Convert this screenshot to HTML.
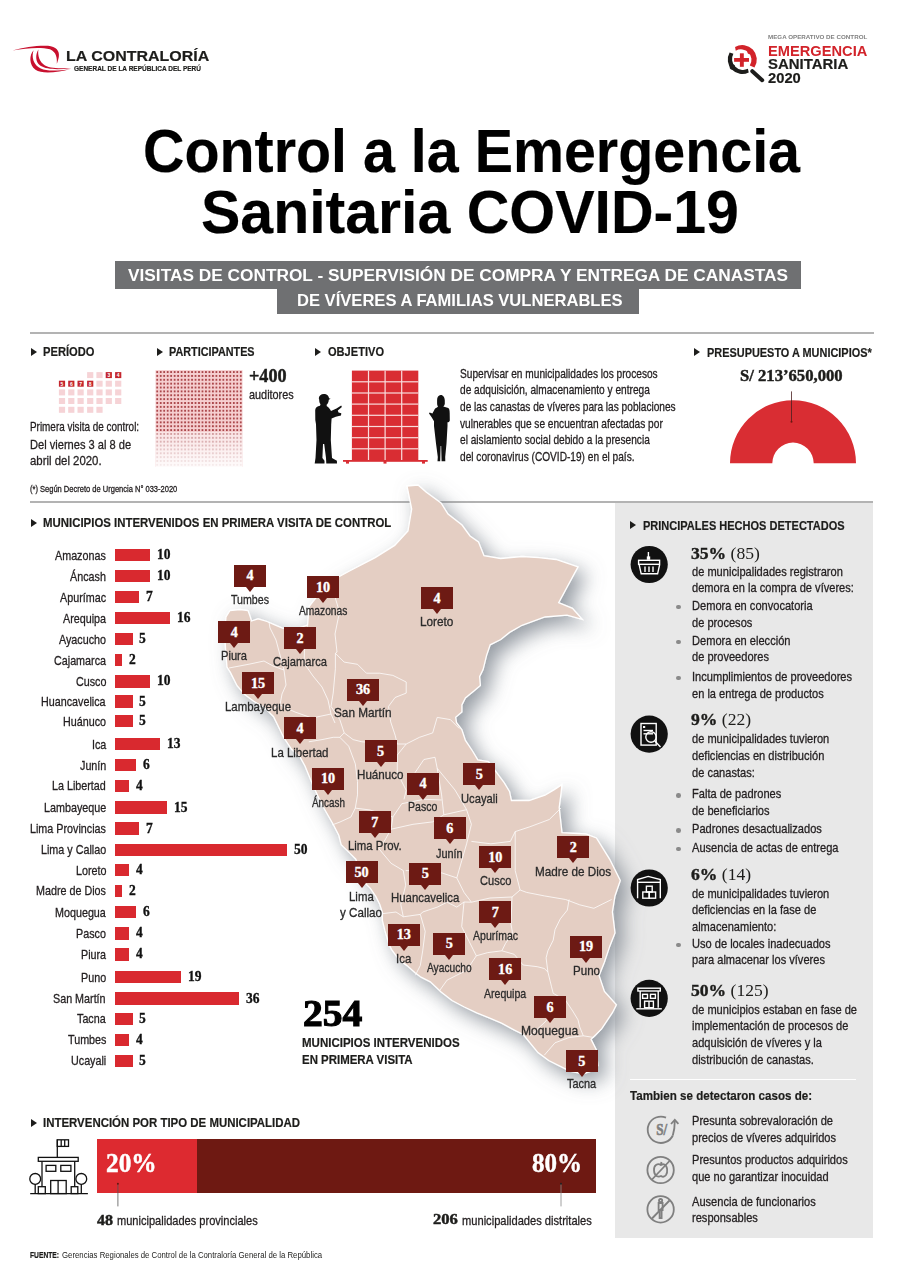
<!DOCTYPE html>
<html><head><meta charset="utf-8"><style>
html,body{margin:0;padding:0;background:#fff}
body{width:904px;height:1280px;position:relative;overflow:hidden;font-family:'Liberation Sans', sans-serif}
.t{position:absolute;white-space:nowrap;line-height:1;transform-origin:0 0}
.sw{-webkit-text-stroke:0.3px currentColor}
.sv{-webkit-text-stroke:0.35px currentColor}
.mb{position:absolute;width:32px;height:22px;background:#6d1a14}
.mb:after{content:"";position:absolute;left:12px;top:22px;border-left:4px solid transparent;border-right:4px solid transparent;border-top:5px solid #6d1a14}
</style></head><body>
<div style="position:absolute;left:115px;top:261px;width:686px;height:28px;background:#6f7072"></div>
<div style="position:absolute;left:277px;top:289px;width:362px;height:24.5px;background:#6f7072"></div>
<div style="position:absolute;left:29.7px;top:331.9px;width:844.3px;height:1.9px;background:#b3b3b3"></div>
<div style="position:absolute;left:30.5px;top:348.0px;width:0;height:0;border-top:4px solid transparent;border-bottom:4px solid transparent;border-left:6px solid #1d1d1b"></div>
<div style="position:absolute;left:156.5px;top:348.0px;width:0;height:0;border-top:4px solid transparent;border-bottom:4px solid transparent;border-left:6px solid #1d1d1b"></div>
<div style="position:absolute;left:315px;top:348.0px;width:0;height:0;border-top:4px solid transparent;border-bottom:4px solid transparent;border-left:6px solid #1d1d1b"></div>
<div style="position:absolute;left:694px;top:348.3px;width:0;height:0;border-top:4px solid transparent;border-bottom:4px solid transparent;border-left:6px solid #1d1d1b"></div>
<div style="position:absolute;left:29.7px;top:501.2px;width:843.7px;height:1.5px;background:#b3b3b3"></div>
<div style="position:absolute;left:614.6px;top:502.8px;width:258.8px;height:734.8px;background:#e8e8e8"></div>
<div style="position:absolute;left:30.5px;top:518.7px;width:0;height:0;border-top:4px solid transparent;border-bottom:4px solid transparent;border-left:6px solid #1d1d1b"></div>
<div style="position:absolute;left:630px;top:521.4px;width:0;height:0;border-top:4px solid transparent;border-bottom:4px solid transparent;border-left:6px solid #1d1d1b"></div>
<div style="position:absolute;left:115.4px;top:549.05px;width:34.4px;height:12.3px;background:#d9292f"></div>
<div style="position:absolute;left:115.4px;top:570.05px;width:34.4px;height:12.3px;background:#d9292f"></div>
<div style="position:absolute;left:115.4px;top:591.15px;width:24.1px;height:12.3px;background:#d9292f"></div>
<div style="position:absolute;left:115.4px;top:612.05px;width:55.0px;height:12.3px;background:#d9292f"></div>
<div style="position:absolute;left:115.4px;top:633.15px;width:17.2px;height:12.3px;background:#d9292f"></div>
<div style="position:absolute;left:115.4px;top:654.15px;width:6.9px;height:12.3px;background:#d9292f"></div>
<div style="position:absolute;left:115.4px;top:675.25px;width:34.4px;height:12.3px;background:#d9292f"></div>
<div style="position:absolute;left:115.4px;top:695.35px;width:17.2px;height:12.3px;background:#d9292f"></div>
<div style="position:absolute;left:115.4px;top:715.05px;width:17.2px;height:12.3px;background:#d9292f"></div>
<div style="position:absolute;left:115.4px;top:737.95px;width:44.7px;height:12.3px;background:#d9292f"></div>
<div style="position:absolute;left:115.4px;top:758.95px;width:20.6px;height:12.3px;background:#d9292f"></div>
<div style="position:absolute;left:115.4px;top:779.85px;width:13.8px;height:12.3px;background:#d9292f"></div>
<div style="position:absolute;left:115.4px;top:801.45px;width:51.6px;height:12.3px;background:#d9292f"></div>
<div style="position:absolute;left:115.4px;top:822.35px;width:24.1px;height:12.3px;background:#d9292f"></div>
<div style="position:absolute;left:115.4px;top:843.55px;width:172.0px;height:12.3px;background:#d9292f"></div>
<div style="position:absolute;left:115.4px;top:863.95px;width:13.8px;height:12.3px;background:#d9292f"></div>
<div style="position:absolute;left:115.4px;top:884.85px;width:6.9px;height:12.3px;background:#d9292f"></div>
<div style="position:absolute;left:115.4px;top:906.15px;width:20.6px;height:12.3px;background:#d9292f"></div>
<div style="position:absolute;left:115.4px;top:927.25px;width:13.8px;height:12.3px;background:#d9292f"></div>
<div style="position:absolute;left:115.4px;top:948.25px;width:13.8px;height:12.3px;background:#d9292f"></div>
<div style="position:absolute;left:115.4px;top:971.15px;width:65.4px;height:12.3px;background:#d9292f"></div>
<div style="position:absolute;left:115.4px;top:992.45px;width:123.8px;height:12.3px;background:#d9292f"></div>
<div style="position:absolute;left:115.4px;top:1012.75px;width:17.2px;height:12.3px;background:#d9292f"></div>
<div style="position:absolute;left:115.4px;top:1033.55px;width:13.8px;height:12.3px;background:#d9292f"></div>
<div style="position:absolute;left:115.4px;top:1054.65px;width:17.2px;height:12.3px;background:#d9292f"></div>
<div style="position:absolute;left:676.3px;top:604.8px;width:4.6px;height:4.6px;border-radius:50%;background:#8a8a8a"></div>
<div style="position:absolute;left:676.3px;top:639.6px;width:4.6px;height:4.6px;border-radius:50%;background:#8a8a8a"></div>
<div style="position:absolute;left:676.3px;top:675.6px;width:4.6px;height:4.6px;border-radius:50%;background:#8a8a8a"></div>
<div style="position:absolute;left:676.3px;top:793.0px;width:4.6px;height:4.6px;border-radius:50%;background:#8a8a8a"></div>
<div style="position:absolute;left:676.3px;top:828.2px;width:4.6px;height:4.6px;border-radius:50%;background:#8a8a8a"></div>
<div style="position:absolute;left:676.3px;top:846.8px;width:4.6px;height:4.6px;border-radius:50%;background:#8a8a8a"></div>
<div style="position:absolute;left:676.3px;top:942.8px;width:4.6px;height:4.6px;border-radius:50%;background:#8a8a8a"></div>
<div style="position:absolute;left:629.5px;top:1078.5px;width:226px;height:1px;background:#fff"></div>
<div style="position:absolute;left:30.5px;top:1118.9px;width:0;height:0;border-top:4px solid transparent;border-bottom:4px solid transparent;border-left:6px solid #1d1d1b"></div>
<div style="position:absolute;left:96.7px;top:1139.4px;width:100px;height:53.2px;background:#dd2a30"></div>
<div style="position:absolute;left:196.7px;top:1139.4px;width:399.5px;height:53.2px;background:#6e1912"></div>
<svg style="position:absolute;left:0;top:0" width="904" height="1280" viewBox="0 0 904 1280">
<defs><filter id="sh" x="-30%" y="-20%" width="160%" height="140%"><feGaussianBlur in="SourceAlpha" stdDeviation="10"/><feOffset dx="8" dy="8" result="b"/><feFlood flood-color="#737b85" flood-opacity="0.75"/><feComposite in2="b" operator="in"/><feMerge><feMergeNode/><feMergeNode in="SourceGraphic"/></feMerge></filter></defs>
<path d="M407.0,486.0 L418.0,485.0 L426.0,492.0 L441.0,503.0 L448.0,514.0 L462.0,525.0 L470.0,536.0 L478.5,542.0 L484.0,555.7 L500.6,558.5 L522.0,556.5 L539.0,557.7 L556.0,559.5 L578.0,566.8 L558.7,602.7 L572.5,608.3 L582.2,619.3 L567.0,615.2 L545.0,617.0 L522.0,625.3 L509.6,632.4 L500.8,639.5 L490.2,644.8 L486.6,655.4 L483.1,669.6 L479.6,676.6 L480.4,685.5 L474.2,690.8 L465.4,697.9 L461.9,705.0 L461.9,712.0 L455.7,717.3 L456.5,722.7 L461.9,729.7 L465.4,740.4 L472.5,751.0 L477.8,759.8 L488.4,761.6 L504.3,782.8 L509.6,791.7 L511.4,800.5 L529.1,800.5 L545.0,795.2 L553.9,789.9 L561.9,784.6 L561.0,793.5 L559.2,807.6 L562.0,832.7 L585.8,834.0 L596.4,838.0 L609.7,859.3 L620.3,880.5 L615.0,896.0 L612.4,911.9 L615.0,933.0 L609.7,946.4 L604.4,962.3 L599.1,975.6 L604.4,991.5 L616.4,1004.8 L612.4,1012.7 L601.8,1028.7 L591.1,1039.3 L596.4,1049.9 L597.8,1065.8 L591.1,1071.1 L583.2,1073.8 L569.9,1071.1 L559.3,1065.8 L548.7,1060.5 L538.0,1052.6 L523.2,1034.5 L513.9,1029.8 L501.5,1023.2 L489.1,1017.8 L476.7,1012.8 L464.3,1007.0 L452.0,1000.5 L441.1,992.0 L430.3,981.8 L421.0,977.2 L414.8,972.5 L407.0,965.6 L399.3,960.1 L391.5,949.3 L389.0,944.2 L385.0,930.9 L382.4,920.3 L382.4,912.3 L379.7,904.3 L375.8,896.4 L370.4,888.4 L363.8,881.8 L355.8,859.2 L350.5,853.9 L341.2,844.6 L338.8,835.3 L333.0,824.0 L321.7,804.2 L312.5,784.2 L305.0,766.0 L300.0,757.0 L291.6,749.3 L283.6,737.3 L273.6,716.7 L264.7,707.8 L253.7,701.2 L244.8,694.6 L237.1,685.7 L230.4,672.4 L227.0,667.0 L226.0,655.0 L225.0,640.0 L225.0,628.0 L226.0,617.0 L230.0,610.5 L240.0,609.5 L248.0,610.5 L250.0,616.0 L251.5,621.0 L258.1,618.8 L267.0,621.5 L273.6,624.3 L282.4,628.2 L296.0,629.0 L307.6,625.0 L309.1,606.5 L315.3,598.7 L326.0,586.0 L338.5,577.0 L350.0,570.8 L375.2,557.6 L394.7,545.4 L408.0,531.0 L411.7,509.0 Z" fill="#e4cec3" stroke="#fff" stroke-width="1.3" filter="url(#sh)"/>
<g id="inner" fill="none" stroke="#fff" stroke-width="0.9" stroke-opacity="0.85" stroke-linejoin="round"><polyline points="229,668 250,664 264,661 273,666 284,670"/>
<polyline points="284,670 280,655 276,640 270,628 269,622"/>
<polyline points="284,670 286,685 282,694 280,705"/>
<polyline points="280,705 271,710 258,708"/>
<polyline points="307.6,625 305,640 304,663 313,676 322,687 328,700 331,714 335,723"/>
<polyline points="280,705 295,712 312,718 331,714"/>
<polyline points="335,597 339.5,612 335,634 337,652 335.4,653.3"/>
<polyline points="335.4,653.3 344.2,662.1 357.5,664.3 366.4,673.2 379.6,673.2 392.9,675.4 406.2,682 406.2,693.1 395.1,697.5 388.5,706.4 390.7,721.9 395.1,735.1 397.3,744"/>
<polyline points="335.4,653.3 335.4,668.8 333.2,693.1 331,706.4 339.8,719.6 344.2,732.9 353.1,739.6 361.9,741.8 397.3,744"/>
<polyline points="308.8,741.8 322.1,739.6 333.2,737.3 339.8,737.3 344.2,732.9"/>
<polyline points="397.3,744 406.2,744 419.5,737.3 432.7,732.9 437.2,717.4 450.4,719.6 459.3,728.5"/>
<polyline points="406.2,744 397.3,755 397.3,772.7 406.2,790.4 404,799.3"/>
<polyline points="415,772.7 423.9,759.5 435,757.3 437.2,768.3 441.6,794.9 443.8,814.8"/>
<polyline points="441.6,800 423.9,799.3 401.8,803.7 392.9,817 391.1,829.2"/>
<polyline points="339.8,737.3 348.7,746.2 355.3,763.9 357.5,781.6 357.5,794.9 355.3,808.1 350.9,817 340,822 332,825"/>
<polyline points="355.3,808.1 370,810 392.9,817"/>
<polyline points="391.1,829.2 413,824.3 432.5,821.9 443.8,814.8"/>
<polyline points="391.1,829.2 385,840 378.9,848.7 391.1,863.3 403.3,870.6 405.7,885.2 400.8,904.6 403.3,916.8"/>
<polyline points="376.5,914.4 396,912 403.3,916.8 420.3,914.4 422.7,912"/>
<polyline points="405.7,870.6 425.2,870.6 442.2,873 456.8,877.9 464.1,892.5 471.4,902.2"/>
<polyline points="443.8,814.8 466.6,809.7 471.4,824.3 466.6,843.8 461.7,860.8 456.8,877.9"/>
<polyline points="437.2,768.3 455,790 466.6,809.7"/>
<polyline points="471.4,841.4 490.9,843.8 510.4,841.4 515.2,831.6 529.8,826.8 549.3,819.5 561,808"/>
<polyline points="515.2,831.6 515.2,870.6 520.1,890 526.6,892.4 544.3,895.9 565.6,899.5 579.7,904.8 593.9,908.3 611.6,899.5"/>
<polyline points="569.1,899.5 567.3,910.1 560.3,918.9 555,929.6 553.2,940.2 547.9,950.8 546.1,957.9 547.9,972 551.4,986.2 553.2,993.3 565.6,1000.4 572.7,1011 578,1019.8 579.7,1026.9 583.3,1035.8 593.9,1037.5 601.8,1029"/>
<polyline points="544.3,1055.2 555,1042.8 569.1,1037.5 583.3,1035.8"/>
<polyline points="565.6,1000.4 555,1010 545,1022 530,1036"/>
<polyline points="471.4,902.2 490,898 512,897 520.1,890"/>
<polyline points="512,897 511,924 512.5,933 505.4,943.7 501.9,950.8"/>
<polyline points="476.3,955.8 487.7,952.6 501.9,950.8 514.2,954.3 523.1,965 537.3,966.7 544.3,968.5 547.9,972"/>
<polyline points="464,902 461.7,926.6 469,941.2 476.3,955.8"/>
<polyline points="476.3,955.8 466.6,970.4 456.8,975.2 447.1,980.1 440,990"/>
<polyline points="422.7,912 437.3,907.1 447.1,902.2 456.8,907.1 464,902 471.4,902.2"/>
<polyline points="420.3,914.4 425.2,931.4 422.7,950.9 420.3,965.5 415.4,975.2"/></g>
</svg>
<svg style="position:absolute;left:0;top:0" width="904" height="1280" viewBox="0 0 904 1280">
<g fill="#c8102e">
<path d="M12.6,50.4 C24,47.2 38,45.2 48,45.8 C56,46.5 60,51 58.8,57 C58.2,60 57.5,62 56.8,63.8 C57.2,58 56.5,52 50,49.2 C40,46.8 26,48.2 12.6,50.4 Z"/>
<path d="M33.6,50.2 C29.2,55 28.8,64.5 35.5,69.8 C42,74.5 58,72.5 70.5,69 C59,70.8 47,71.6 40.8,68.6 C33.5,65 31.2,57 33.6,50.2 Z"/>
<path d="M38.4,49.4 C35.2,54.5 35.2,62 40.5,65.8 C47,70 60,69.5 71.8,68.2 C60,68.6 50.5,68.3 45,65.4 C39.5,62 37.4,55.5 38.4,49.4 Z"/>
</g>
<!-- emergencia magnifier -->
<path d="M735.05,46.94 A14.5,14.5 0 0 1 754.46,67.4 L749.8,65.5 A10.5,10.5 0 0 0 735.75,50.7 Z" fill="#d2232a"/>
<circle cx="749.9" cy="51.6" r="2.6" fill="#d2232a"/>
<path d="M748.75,72.5 A14.5,14.5 0 0 1 729.6,52.5 L733.4,53.7 A11,11 0 0 0 747.9,68.85 Z" fill="#1d1d1b"/>
<circle cx="732.4" cy="67" r="2.7" fill="#1d1d1b"/>
<rect x="734.1" y="58" width="14.9" height="3.8" fill="#d2232a"/>
<rect x="739.9" y="53.3" width="3.9" height="13.5" fill="#d2232a"/>
<line x1="752.3" y1="71.2" x2="762.2" y2="80.2" stroke="#1d1d1b" stroke-width="4" stroke-linecap="round"/>

<rect x="87.1" y="372.1" width="6.2" height="6" fill="#f6d3d6"/>
<rect x="96.4" y="372.1" width="6.2" height="6" fill="#f6d3d6"/>
<rect x="105.7" y="372.1" width="6.2" height="6" fill="#c4262e"/>
<text x="108.8" y="376.9" font-family="Liberation Sans" font-weight="bold" font-size="5" fill="#fff" text-anchor="middle">3</text>
<rect x="115.1" y="372.1" width="6.2" height="6" fill="#c4262e"/>
<text x="118.2" y="376.9" font-family="Liberation Sans" font-weight="bold" font-size="5" fill="#fff" text-anchor="middle">4</text>
<rect x="58.9" y="380.7" width="6.2" height="6" fill="#c4262e"/>
<text x="62.0" y="385.5" font-family="Liberation Sans" font-weight="bold" font-size="5" fill="#fff" text-anchor="middle">5</text>
<rect x="68.2" y="380.7" width="6.2" height="6" fill="#c4262e"/>
<text x="71.3" y="385.5" font-family="Liberation Sans" font-weight="bold" font-size="5" fill="#fff" text-anchor="middle">6</text>
<rect x="77.5" y="380.7" width="6.2" height="6" fill="#c4262e"/>
<text x="80.6" y="385.5" font-family="Liberation Sans" font-weight="bold" font-size="5" fill="#fff" text-anchor="middle">7</text>
<rect x="87.1" y="380.7" width="6.2" height="6" fill="#c4262e"/>
<text x="90.2" y="385.5" font-family="Liberation Sans" font-weight="bold" font-size="5" fill="#fff" text-anchor="middle">8</text>
<rect x="96.4" y="380.7" width="6.2" height="6" fill="#f6d3d6"/>
<rect x="105.7" y="380.7" width="6.2" height="6" fill="#f6d3d6"/>
<rect x="115.1" y="380.7" width="6.2" height="6" fill="#f6d3d6"/>
<rect x="58.9" y="389.4" width="6.2" height="6" fill="#f6d3d6"/>
<rect x="68.2" y="389.4" width="6.2" height="6" fill="#f6d3d6"/>
<rect x="77.5" y="389.4" width="6.2" height="6" fill="#f6d3d6"/>
<rect x="87.1" y="389.4" width="6.2" height="6" fill="#f6d3d6"/>
<rect x="96.4" y="389.4" width="6.2" height="6" fill="#f6d3d6"/>
<rect x="105.7" y="389.4" width="6.2" height="6" fill="#f6d3d6"/>
<rect x="115.1" y="389.4" width="6.2" height="6" fill="#f6d3d6"/>
<rect x="58.9" y="398.0" width="6.2" height="6" fill="#f6d3d6"/>
<rect x="68.2" y="398.0" width="6.2" height="6" fill="#f6d3d6"/>
<rect x="77.5" y="398.0" width="6.2" height="6" fill="#f6d3d6"/>
<rect x="87.1" y="398.0" width="6.2" height="6" fill="#f6d3d6"/>
<rect x="96.4" y="398.0" width="6.2" height="6" fill="#f6d3d6"/>
<rect x="105.7" y="398.0" width="6.2" height="6" fill="#f6d3d6"/>
<rect x="115.1" y="398.0" width="6.2" height="6" fill="#f6d3d6"/>
<rect x="58.9" y="406.8" width="6.2" height="6" fill="#f6d3d6"/>
<rect x="68.2" y="406.8" width="6.2" height="6" fill="#f6d3d6"/>
<rect x="77.5" y="406.8" width="6.2" height="6" fill="#f6d3d6"/>
<rect x="87.1" y="406.8" width="6.2" height="6" fill="#f6d3d6"/>
<rect x="96.4" y="406.8" width="6.2" height="6" fill="#f6d3d6"/>
<defs><pattern id="dp" x="155.5" y="370.1" width="3.48" height="3.87" patternUnits="userSpaceOnUse"><rect width="3.48" height="3.87" fill="#f6cfd0"/><circle cx="1.74" cy="1.9" r="1.05" fill="#9e2f33"/></pattern><linearGradient id="fade" x1="0" y1="0" x2="0" y2="1"><stop offset="0" stop-color="#fff" stop-opacity="0.45"/><stop offset="1" stop-color="#fff" stop-opacity="0.92"/></linearGradient></defs>
<rect x="155.5" y="370.1" width="87" height="96.8" fill="url(#dp)"/>
<rect x="155.5" y="432" width="87" height="35" fill="url(#fade)"/>
<rect x="351.9" y="370.6" width="66.4" height="89.4" fill="#d92d33"/>
<rect x="367.9" y="370.6" width="1.2" height="89.4" fill="#f9dcdc"/>
<rect x="384.5" y="370.6" width="1.2" height="89.4" fill="#f9dcdc"/>
<rect x="401.1" y="370.6" width="1.2" height="89.4" fill="#f9dcdc"/>
<rect x="351.9" y="381.2" width="66.4" height="1.2" fill="#f9dcdc"/>
<rect x="351.9" y="392.4" width="66.4" height="1.2" fill="#f9dcdc"/>
<rect x="351.9" y="403.5" width="66.4" height="1.2" fill="#f9dcdc"/>
<rect x="351.9" y="414.7" width="66.4" height="1.2" fill="#f9dcdc"/>
<rect x="351.9" y="425.9" width="66.4" height="1.2" fill="#f9dcdc"/>
<rect x="351.9" y="437.1" width="66.4" height="1.2" fill="#f9dcdc"/>
<rect x="351.9" y="448.2" width="66.4" height="1.2" fill="#f9dcdc"/>
<rect x="343" y="460" width="84.7" height="1.8" fill="#d92d33"/>
<rect x="346" y="461" width="3" height="2.6" fill="#d92d33"/>
<rect x="383.5" y="461" width="3" height="2.6" fill="#d92d33"/>
<rect x="422" y="461" width="3" height="2.6" fill="#d92d33"/>
<path fill="#111" d="M323.8,393.9 C327,393.9 329,396 329,398.3 L330.6,398.8 L328.8,399.7 C328.6,402 327.8,404 326.6,404.8 L326.8,406.2 C328.5,407 330,409 331,411 L336.5,408.4 L341.2,405.6 L341.9,407 L337.8,410.6 L338.5,412.6 L341.3,413.3 L341,415.4 L335.8,416.8 L331.6,418.6 L331.2,424.5 L330.8,440 L332,458 L336.9,460.8 L337,463.6 L326.3,463.6 L326,458 L324.2,444 L323,444 L322.4,458 L324.5,460.8 L324.5,463.6 L314.7,463.6 L315.5,458 L316.5,440 L316,424.3 L315.3,420 L315.2,410 C315.5,407.5 317.5,406.3 320,405.8 L320.5,404.2 C319.5,403 319.2,401.5 319.2,399.8 L318.8,398.3 C319,395.5 321,393.9 323.8,393.9 Z"/>
<path fill="#111" d="M440.7,395 C443.3,395 444.8,397.5 444.8,400.5 L444.8,404 C444.5,405.2 444,406 443.3,406.4 L448.3,408 C449.3,408.8 449.7,410.5 449.7,413 L449.8,420.5 C449.5,421.8 448.5,422.3 447.5,422.3 L447.5,426 L446.5,443.5 L445.2,457 L445.3,461.2 L441.6,461.2 L441.2,446 L440.6,446 L440.2,461.2 L437.5,461.2 L437.8,457 L436,443.5 L434,426 L434,421.2 L431.5,417 L429,413.6 L429.6,412.6 L432.4,413.6 L434.3,410 C434.6,408.6 435.5,407.8 437,407.4 L438,406.6 C437.3,405.6 437.1,404.5 437.1,403 L437.1,400 C437.1,397.2 438.5,395 440.7,395 Z"/>
<path d="M730,463.3 A63,63 0 0 1 856,463.3 L813.7,463.3 A20.7,20.7 0 0 0 772.3,463.3 Z" fill="#d92d33"/>
<line x1="791.5" y1="391.4" x2="791.5" y2="421.7" stroke="#4a2020" stroke-width="0.8"/><circle cx="791.5" cy="421.7" r="1" fill="#6b1510"/>
<line x1="117.9" y1="1183.8" x2="117.9" y2="1206.4" stroke="#555" stroke-width="0.8"/><circle cx="117.9" cy="1183.8" r="1" fill="#6b1510"/>
<line x1="561" y1="1183.8" x2="561" y2="1206.4" stroke="#888" stroke-width="0.8"/><circle cx="561" cy="1183.8" r="1" fill="#222"/>
<circle cx="649.2" cy="564.5" r="18.6" fill="#111"/>
<circle cx="649.2" cy="734.1" r="18.6" fill="#111"/>
<circle cx="649.2" cy="888" r="18.6" fill="#111"/>
<circle cx="649.2" cy="998.4" r="18.6" fill="#111"/>
<g stroke="#fff" stroke-width="1.4" fill="none"><rect x="638.6" y="560.3" width="21" height="4"/><path d="M639.2,564.8 L641.2,573.8 L657.6,573.8 L659.6,564.8"/><line x1="645" y1="566.5" x2="645" y2="572"/><line x1="649" y1="566.5" x2="649" y2="572"/><line x1="653" y1="566.5" x2="653" y2="572"/><line x1="648.4" y1="552" x2="648.4" y2="559"/></g><rect x="646.8" y="556.4" width="3.4" height="3.4" fill="#fff"/>
<g stroke="#fff" stroke-width="1.4" fill="none"><rect x="641" y="723.5" width="15.2" height="21.6"/><circle cx="651" cy="737" r="5.2"/><line x1="654.8" y1="741" x2="660.5" y2="747"/><line x1="643.5" y1="730.5" x2="653" y2="730.5"/><line x1="643.5" y1="733.8" x2="653" y2="733.8"/></g><rect x="643" y="726" width="2.2" height="2" fill="#fff"/>
<g stroke="#fff" stroke-width="1.4" fill="none"><path d="M637.6,898.2 L637.6,879.6 L648.2,876.4 L660.3,879.6 L660.3,898.2"/><line x1="637.6" y1="882.3" x2="660.3" y2="882.3"/><rect x="646.4" y="886.2" width="5.8" height="5.8"/><rect x="642.8" y="892" width="6.4" height="6.2"/><rect x="649.2" y="892" width="6.4" height="6.2"/></g>
<g stroke="#fff" stroke-width="1.4" fill="none"><rect x="637.9" y="988.2" width="22.4" height="2.8"/><line x1="640.2" y1="991" x2="640.2" y2="1007.7"/><line x1="658.2" y1="991" x2="658.2" y2="1007.7"/><rect x="642.6" y="994.3" width="4.9" height="4"/><rect x="650.5" y="994.3" width="4.9" height="4"/><rect x="644.6" y="1001.2" width="8.8" height="6.5"/><line x1="649" y1="1001.2" x2="649" y2="1007.7"/><line x1="636.3" y1="1008.8" x2="661.8" y2="1008.8"/></g>
<g stroke="#7f7f7f" stroke-width="1.8" fill="none"><path d="M672.8,1135.5 A13.2,13.2 0 1 1 666,1117.6"/><path d="M672.8,1135.5 C674.2,1131 674.8,1126 674.8,1120.5"/><path d="M671,1124 L674.8,1119.8 L678.4,1123.8"/></g>
<text x="661.8" y="1135.2" font-family="Liberation Serif" font-weight="bold" font-size="16" fill="#7f7f7f" stroke="#7f7f7f" stroke-width="0.6" text-anchor="middle" transform="translate(661.8 0) scale(0.82 1) translate(-661.8 0)">S/</text>
<g stroke="#7f7f7f" stroke-width="1.8" fill="none"><circle cx="660.6" cy="1170" r="13.2"/><line x1="652" y1="1179.5" x2="669.5" y2="1161"/><path d="M656,1165 C653,1167 653.5,1174 656.5,1176 C658.5,1177 660,1176.5 661,1176 C662.5,1177 664.5,1177 666,1175 C668,1172 667.5,1166 664.5,1164.5 C663,1164 661.5,1164.5 660.8,1165 C659.5,1164 657.5,1164 656,1165 Z"/><path d="M660.8,1165 L661.5,1162"/></g>
<g stroke="#7f7f7f" stroke-width="1.8" fill="none"><circle cx="660.6" cy="1209.4" r="13.2"/><line x1="652" y1="1218.5" x2="669.5" y2="1200.5"/><circle cx="660.6" cy="1200.6" r="1.6"/><path d="M658.6,1203 L662.6,1203 L662.6,1210 L661.6,1210 L661.6,1218 L659.6,1218 L659.6,1210 L658.6,1210 Z"/></g>
<g stroke="#111" stroke-width="1.3" fill="none"><line x1="30.2" y1="1193.6" x2="87.9" y2="1193.6"/><rect x="38.3" y="1157.4" width="39.9" height="3.9"/><line x1="42" y1="1161.3" x2="42" y2="1186.7"/><line x1="74.7" y1="1161.3" x2="74.7" y2="1186.7"/><rect x="46.1" y="1165.4" width="9.7" height="5.9"/><rect x="60.8" y="1165.4" width="10.1" height="5.9"/><rect x="50.7" y="1180.5" width="15.5" height="13.1"/><line x1="58.1" y1="1180.5" x2="58.1" y2="1193.6"/><rect x="38.3" y="1186.7" width="7" height="6.9"/><rect x="71.2" y="1186.7" width="6.6" height="6.9"/><circle cx="35.2" cy="1178.9" r="5.4"/><line x1="35.2" y1="1184.3" x2="35.2" y2="1193.6"/><circle cx="81.3" cy="1178.9" r="5.4"/><line x1="81.3" y1="1184.3" x2="81.3" y2="1193.6"/><line x1="57.3" y1="1139.4" x2="57.3" y2="1157.4"/><rect x="57.3" y="1139.8" width="11.2" height="6.6"/><line x1="61.2" y1="1140" x2="61.2" y2="1146.4"/><line x1="64.7" y1="1140" x2="64.7" y2="1146.4"/></g>
</svg>
<div class="mb" style="left:234.0px;top:564.6px"></div>
<div class="mb" style="left:307.0px;top:576.3px"></div>
<div class="mb" style="left:218.3px;top:620.9px"></div>
<div class="mb" style="left:284.0px;top:627.4px"></div>
<div class="mb" style="left:242.0px;top:672.3px"></div>
<div class="mb" style="left:284.0px;top:717.4px"></div>
<div class="mb" style="left:312.0px;top:767.6px"></div>
<div class="mb" style="left:347.0px;top:678.6px"></div>
<div class="mb" style="left:421.0px;top:587.0px"></div>
<div class="mb" style="left:364.5px;top:740.2px"></div>
<div class="mb" style="left:407.0px;top:772.6px"></div>
<div class="mb" style="left:358.7px;top:810.8px"></div>
<div class="mb" style="left:345.5px;top:861.2px"></div>
<div class="mb" style="left:409.4px;top:862.7px"></div>
<div class="mb" style="left:387.8px;top:923.6px"></div>
<div class="mb" style="left:433.7px;top:816.8px"></div>
<div class="mb" style="left:463.3px;top:762.9px"></div>
<div class="mb" style="left:479.3px;top:846.0px"></div>
<div class="mb" style="left:557.2px;top:836.2px"></div>
<div class="mb" style="left:479.3px;top:901.0px"></div>
<div class="mb" style="left:433.4px;top:932.6px"></div>
<div class="mb" style="left:489.2px;top:958.3px"></div>
<div class="mb" style="left:570.0px;top:935.7px"></div>
<div class="mb" style="left:534.0px;top:996.3px"></div>
<div class="mb" style="left:565.9px;top:1049.9px"></div>
<div class="t" style="left:65.50px;top:48.18px;font-size:15.5px;font-family:'Liberation Sans', sans-serif;font-weight:bold;color:#1d1d1b;-webkit-text-stroke:0.2px currentColor;transform:scaleX(1.0315)">LA CONTRALORÍA</div>
<div class="t" style="left:74.00px;top:64.70px;font-size:7.2px;font-family:'Liberation Sans', sans-serif;font-weight:bold;color:#1d1d1b;-webkit-text-stroke:0.2px currentColor;transform:scaleX(0.9060)">GENERAL DE LA REPÚBLICA DEL PERÚ</div>
<div class="t" style="left:767.70px;top:34.99px;font-size:5.8px;font-family:'Liberation Sans', sans-serif;font-weight:bold;color:#808080;transform:scaleX(1.0742)">MEGA OPERATIVO DE CONTROL</div>
<div class="t" style="left:767.70px;top:43.00px;font-size:15px;font-family:'Liberation Sans', sans-serif;font-weight:bold;color:#d2232a;transform:scaleX(0.9765)">EMERGENCIA</div>
<div class="t" style="left:767.70px;top:56.08px;font-size:15.5px;font-family:'Liberation Sans', sans-serif;font-weight:bold;color:#1d1d1b;-webkit-text-stroke:0.2px currentColor;transform:scaleX(0.9646)">SANITARIA</div>
<div class="t" style="left:767.70px;top:70.08px;font-size:15.5px;font-family:'Liberation Sans', sans-serif;font-weight:bold;color:#1d1d1b;-webkit-text-stroke:0.2px currentColor;transform:scaleX(0.9512)">2020</div>
<div class="t" style="left:143.10px;top:119.50px;font-size:62px;font-family:'Liberation Sans', sans-serif;font-weight:bold;color:#000;-webkit-text-stroke:0.2px currentColor;transform:scaleX(0.9257)">Control a la Emergencia</div>
<div class="t" style="left:201.20px;top:180.50px;font-size:62px;font-family:'Liberation Sans', sans-serif;font-weight:bold;color:#000;-webkit-text-stroke:0.2px currentColor;transform:scaleX(0.9517)">Sanitaria COVID-19</div>
<div class="t" style="left:127.50px;top:267.98px;font-size:16.8px;font-family:'Liberation Sans', sans-serif;font-weight:bold;color:#fff;transform:scaleX(1.0293)">VISITAS DE CONTROL - SUPERVISIÓN DE COMPRA Y ENTREGA DE CANASTAS</div>
<div class="t" style="left:297.40px;top:291.53px;font-size:16.5px;font-family:'Liberation Sans', sans-serif;font-weight:bold;color:#fff;transform:scaleX(1.0042)">DE VÍVERES A FAMILIAS VULNERABLES</div>
<div class="t" style="left:43.20px;top:345.49px;font-size:13px;font-family:'Liberation Sans', sans-serif;font-weight:bold;color:#1d1d1b;-webkit-text-stroke:0.2px currentColor;transform:scaleX(0.8588)">PERÍODO</div>
<div class="t" style="left:169.40px;top:345.49px;font-size:13px;font-family:'Liberation Sans', sans-serif;font-weight:bold;color:#1d1d1b;-webkit-text-stroke:0.2px currentColor;transform:scaleX(0.8326)">PARTICIPANTES</div>
<div class="t" style="left:328.00px;top:345.49px;font-size:13px;font-family:'Liberation Sans', sans-serif;font-weight:bold;color:#1d1d1b;-webkit-text-stroke:0.2px currentColor;transform:scaleX(0.8517)">OBJETIVO</div>
<div class="t" style="left:707.30px;top:345.79px;font-size:13px;font-family:'Liberation Sans', sans-serif;font-weight:bold;color:#1d1d1b;-webkit-text-stroke:0.2px currentColor;transform:scaleX(0.8403)">PRESUPUESTO A MUNICIPIOS*</div>
<div class="t sw" style="left:30.40px;top:421.40px;font-size:12.4px;font-family:'Liberation Sans', sans-serif;font-weight:normal;color:#231f20;transform:scaleX(0.8001)">Primera visita de control:</div>
<div class="t sw" style="left:30.40px;top:437.79px;font-size:13px;font-family:'Liberation Sans', sans-serif;font-weight:normal;color:#231f20;transform:scaleX(0.8531)">Del viernes 3 al 8 de</div>
<div class="t sw" style="left:30.40px;top:453.69px;font-size:13px;font-family:'Liberation Sans', sans-serif;font-weight:normal;color:#231f20;transform:scaleX(0.8767)">abril del 2020.</div>
<div class="t sw" style="left:30.00px;top:484.55px;font-size:8.8px;font-family:'Liberation Sans', sans-serif;font-weight:normal;color:#231f20;transform:scaleX(0.8552)">(*) Según Decreto de Urgencia N° 033-2020</div>
<div class="t" style="left:249.30px;top:367.41px;font-size:18.5px;font-family:'Liberation Serif', serif;font-weight:bold;color:#1d1d1b;-webkit-text-stroke:0.45px currentColor;transform:scaleX(0.9818)">+400</div>
<div class="t sw" style="left:249.10px;top:388.49px;font-size:13px;font-family:'Liberation Sans', sans-serif;font-weight:normal;color:#231f20;transform:scaleX(0.8358)">auditores</div>
<div class="t sw" style="left:459.60px;top:367.50px;font-size:12.4px;font-family:'Liberation Sans', sans-serif;font-weight:normal;color:#231f20;transform:scaleX(0.8176)">Supervisar en municipalidades los procesos</div>
<div class="t sw" style="left:459.60px;top:384.20px;font-size:12.4px;font-family:'Liberation Sans', sans-serif;font-weight:normal;color:#231f20;transform:scaleX(0.8176)">de adquisición, almacenamiento y entrega</div>
<div class="t sw" style="left:459.60px;top:400.90px;font-size:12.4px;font-family:'Liberation Sans', sans-serif;font-weight:normal;color:#231f20;transform:scaleX(0.8176)">de las canastas de víveres para las poblaciones</div>
<div class="t sw" style="left:459.60px;top:417.60px;font-size:12.4px;font-family:'Liberation Sans', sans-serif;font-weight:normal;color:#231f20;transform:scaleX(0.8176)">vulnerables que se encuentran afectadas por</div>
<div class="t sw" style="left:459.60px;top:434.30px;font-size:12.4px;font-family:'Liberation Sans', sans-serif;font-weight:normal;color:#231f20;transform:scaleX(0.8176)">el aislamiento social debido a la presencia</div>
<div class="t sw" style="left:459.60px;top:451.00px;font-size:12.4px;font-family:'Liberation Sans', sans-serif;font-weight:normal;color:#231f20;transform:scaleX(0.8176)">del coronavirus (COVID-19) en el país.</div>
<div class="t" style="left:740.20px;top:367.68px;font-size:16.5px;font-family:'Liberation Serif', serif;font-weight:bold;color:#1d1d1b;-webkit-text-stroke:0.45px currentColor;transform:scaleX(1.0082)">S/ 213’650,000</div>
<div class="t" style="left:43.10px;top:516.19px;font-size:13px;font-family:'Liberation Sans', sans-serif;font-weight:bold;color:#1d1d1b;-webkit-text-stroke:0.2px currentColor;transform:scaleX(0.8783)">MUNICIPIOS INTERVENIDOS EN PRIMERA VISITA DE CONTROL</div>
<div class="t" style="left:642.50px;top:518.89px;font-size:13px;font-family:'Liberation Sans', sans-serif;font-weight:bold;color:#1d1d1b;-webkit-text-stroke:0.2px currentColor;transform:scaleX(0.8475)">PRINCIPALES HECHOS DETECTADOS</div>
<div class="t sw" style="left:55.20px;top:548.69px;font-size:13px;font-family:'Liberation Sans', sans-serif;font-weight:normal;color:#231f20;transform:scaleX(0.8271)">Amazonas</div>
<div class="t sv" style="left:156.60px;top:547.24px;font-size:15px;font-family:'Liberation Serif', serif;font-weight:bold;color:#111;transform:scaleX(0.9000)">10</div>
<div class="t sw" style="left:70.13px;top:569.69px;font-size:13px;font-family:'Liberation Sans', sans-serif;font-weight:normal;color:#231f20;transform:scaleX(0.8271)">Áncash</div>
<div class="t sv" style="left:156.60px;top:568.24px;font-size:15px;font-family:'Liberation Serif', serif;font-weight:bold;color:#111;transform:scaleX(0.9000)">10</div>
<div class="t sw" style="left:59.98px;top:590.79px;font-size:13px;font-family:'Liberation Sans', sans-serif;font-weight:normal;color:#231f20;transform:scaleX(0.8271)">Apurímac</div>
<div class="t sv" style="left:146.28px;top:589.34px;font-size:15px;font-family:'Liberation Serif', serif;font-weight:bold;color:#111;transform:scaleX(0.9000)">7</div>
<div class="t sw" style="left:62.95px;top:611.69px;font-size:13px;font-family:'Liberation Sans', sans-serif;font-weight:normal;color:#231f20;transform:scaleX(0.8271)">Arequipa</div>
<div class="t sv" style="left:177.24px;top:610.24px;font-size:15px;font-family:'Liberation Serif', serif;font-weight:bold;color:#111;transform:scaleX(0.9000)">16</div>
<div class="t sw" style="left:58.97px;top:632.79px;font-size:13px;font-family:'Liberation Sans', sans-serif;font-weight:normal;color:#231f20;transform:scaleX(0.8271)">Ayacucho</div>
<div class="t sv" style="left:139.40px;top:631.34px;font-size:15px;font-family:'Liberation Serif', serif;font-weight:bold;color:#111;transform:scaleX(0.9000)">5</div>
<div class="t sw" style="left:54.01px;top:653.79px;font-size:13px;font-family:'Liberation Sans', sans-serif;font-weight:normal;color:#231f20;transform:scaleX(0.8271)">Cajamarca</div>
<div class="t sv" style="left:129.08px;top:652.34px;font-size:15px;font-family:'Liberation Serif', serif;font-weight:bold;color:#111;transform:scaleX(0.9000)">2</div>
<div class="t sw" style="left:75.51px;top:674.89px;font-size:13px;font-family:'Liberation Sans', sans-serif;font-weight:normal;color:#231f20;transform:scaleX(0.8271)">Cusco</div>
<div class="t sv" style="left:156.60px;top:673.44px;font-size:15px;font-family:'Liberation Serif', serif;font-weight:bold;color:#111;transform:scaleX(0.9000)">10</div>
<div class="t sw" style="left:41.45px;top:694.99px;font-size:13px;font-family:'Liberation Sans', sans-serif;font-weight:normal;color:#231f20;transform:scaleX(0.8271)">Huancavelica</div>
<div class="t sv" style="left:139.40px;top:693.54px;font-size:15px;font-family:'Liberation Serif', serif;font-weight:bold;color:#111;transform:scaleX(0.9000)">5</div>
<div class="t sw" style="left:62.95px;top:714.69px;font-size:13px;font-family:'Liberation Sans', sans-serif;font-weight:normal;color:#231f20;transform:scaleX(0.8271)">Huánuco</div>
<div class="t sv" style="left:139.40px;top:713.24px;font-size:15px;font-family:'Liberation Serif', serif;font-weight:bold;color:#111;transform:scaleX(0.9000)">5</div>
<div class="t sw" style="left:91.66px;top:737.59px;font-size:13px;font-family:'Liberation Sans', sans-serif;font-weight:normal;color:#231f20;transform:scaleX(0.8271)">Ica</div>
<div class="t sv" style="left:166.92px;top:736.14px;font-size:15px;font-family:'Liberation Serif', serif;font-weight:bold;color:#111;transform:scaleX(0.9000)">13</div>
<div class="t sw" style="left:79.69px;top:758.59px;font-size:13px;font-family:'Liberation Sans', sans-serif;font-weight:normal;color:#231f20;transform:scaleX(0.8271)">Junín</div>
<div class="t sv" style="left:142.84px;top:757.14px;font-size:15px;font-family:'Liberation Serif', serif;font-weight:bold;color:#111;transform:scaleX(0.9000)">6</div>
<div class="t sw" style="left:52.19px;top:779.49px;font-size:13px;font-family:'Liberation Sans', sans-serif;font-weight:normal;color:#231f20;transform:scaleX(0.8271)">La Libertad</div>
<div class="t sv" style="left:135.96px;top:778.04px;font-size:15px;font-family:'Liberation Serif', serif;font-weight:bold;color:#111;transform:scaleX(0.9000)">4</div>
<div class="t sw" style="left:43.83px;top:801.09px;font-size:13px;font-family:'Liberation Sans', sans-serif;font-weight:normal;color:#231f20;transform:scaleX(0.8271)">Lambayeque</div>
<div class="t sv" style="left:173.80px;top:799.64px;font-size:15px;font-family:'Liberation Serif', serif;font-weight:bold;color:#111;transform:scaleX(0.9000)">15</div>
<div class="t sw" style="left:30.10px;top:821.99px;font-size:13px;font-family:'Liberation Sans', sans-serif;font-weight:normal;color:#231f20;transform:scaleX(0.8271)">Lima Provincias</div>
<div class="t sv" style="left:146.28px;top:820.54px;font-size:15px;font-family:'Liberation Serif', serif;font-weight:bold;color:#111;transform:scaleX(0.9000)">7</div>
<div class="t sw" style="left:40.86px;top:843.19px;font-size:13px;font-family:'Liberation Sans', sans-serif;font-weight:normal;color:#231f20;transform:scaleX(0.8271)">Lima y Callao</div>
<div class="t sv" style="left:294.20px;top:841.74px;font-size:15px;font-family:'Liberation Serif', serif;font-weight:bold;color:#111;transform:scaleX(0.9000)">50</div>
<div class="t sw" style="left:75.50px;top:863.59px;font-size:13px;font-family:'Liberation Sans', sans-serif;font-weight:normal;color:#231f20;transform:scaleX(0.8271)">Loreto</div>
<div class="t sv" style="left:135.96px;top:862.14px;font-size:15px;font-family:'Liberation Serif', serif;font-weight:bold;color:#111;transform:scaleX(0.9000)">4</div>
<div class="t sw" style="left:36.07px;top:884.49px;font-size:13px;font-family:'Liberation Sans', sans-serif;font-weight:normal;color:#231f20;transform:scaleX(0.8271)">Madre de Dios</div>
<div class="t sv" style="left:129.08px;top:883.04px;font-size:15px;font-family:'Liberation Serif', serif;font-weight:bold;color:#111;transform:scaleX(0.9000)">2</div>
<div class="t sw" style="left:55.17px;top:905.79px;font-size:13px;font-family:'Liberation Sans', sans-serif;font-weight:normal;color:#231f20;transform:scaleX(0.8271)">Moquegua</div>
<div class="t sv" style="left:142.84px;top:904.34px;font-size:15px;font-family:'Liberation Serif', serif;font-weight:bold;color:#111;transform:scaleX(0.9000)">6</div>
<div class="t sw" style="left:76.11px;top:926.89px;font-size:13px;font-family:'Liberation Sans', sans-serif;font-weight:normal;color:#231f20;transform:scaleX(0.8271)">Pasco</div>
<div class="t sv" style="left:135.96px;top:925.44px;font-size:15px;font-family:'Liberation Serif', serif;font-weight:bold;color:#111;transform:scaleX(0.9000)">4</div>
<div class="t sw" style="left:80.89px;top:947.89px;font-size:13px;font-family:'Liberation Sans', sans-serif;font-weight:normal;color:#231f20;transform:scaleX(0.8271)">Piura</div>
<div class="t sv" style="left:135.96px;top:946.44px;font-size:15px;font-family:'Liberation Serif', serif;font-weight:bold;color:#111;transform:scaleX(0.9000)">4</div>
<div class="t sw" style="left:80.88px;top:970.79px;font-size:13px;font-family:'Liberation Sans', sans-serif;font-weight:normal;color:#231f20;transform:scaleX(0.8271)">Puno</div>
<div class="t sv" style="left:187.56px;top:969.34px;font-size:15px;font-family:'Liberation Serif', serif;font-weight:bold;color:#111;transform:scaleX(0.9000)">19</div>
<div class="t sw" style="left:53.40px;top:992.09px;font-size:13px;font-family:'Liberation Sans', sans-serif;font-weight:normal;color:#231f20;transform:scaleX(0.8271)">San Martín</div>
<div class="t sv" style="left:246.04px;top:990.64px;font-size:15px;font-family:'Liberation Serif', serif;font-weight:bold;color:#111;transform:scaleX(0.9000)">36</div>
<div class="t sw" style="left:77.30px;top:1012.39px;font-size:13px;font-family:'Liberation Sans', sans-serif;font-weight:normal;color:#231f20;transform:scaleX(0.8271)">Tacna</div>
<div class="t sv" style="left:139.40px;top:1010.94px;font-size:15px;font-family:'Liberation Serif', serif;font-weight:bold;color:#111;transform:scaleX(0.9000)">5</div>
<div class="t sw" style="left:67.55px;top:1033.19px;font-size:13px;font-family:'Liberation Sans', sans-serif;font-weight:normal;color:#231f20;transform:scaleX(0.8271)">Tumbes</div>
<div class="t sv" style="left:135.96px;top:1031.74px;font-size:15px;font-family:'Liberation Serif', serif;font-weight:bold;color:#111;transform:scaleX(0.9000)">4</div>
<div class="t sw" style="left:70.75px;top:1054.29px;font-size:13px;font-family:'Liberation Sans', sans-serif;font-weight:normal;color:#231f20;transform:scaleX(0.8271)">Ucayali</div>
<div class="t sv" style="left:139.40px;top:1052.84px;font-size:15px;font-family:'Liberation Serif', serif;font-weight:bold;color:#111;transform:scaleX(0.9000)">5</div>
<div class="t" style="left:303.30px;top:994.06px;font-size:38.5px;font-family:'Liberation Serif', serif;font-weight:bold;color:#000;-webkit-text-stroke:1.1px #000;transform:scaleX(1.0286)">254</div>
<div class="t" style="left:301.80px;top:1037.43px;font-size:12.6px;font-family:'Liberation Sans', sans-serif;font-weight:bold;color:#1d1d1b;-webkit-text-stroke:0.2px currentColor;transform:scaleX(0.9130)">MUNICIPIOS INTERVENIDOS</div>
<div class="t" style="left:301.80px;top:1054.03px;font-size:12.6px;font-family:'Liberation Sans', sans-serif;font-weight:bold;color:#1d1d1b;-webkit-text-stroke:0.2px currentColor;transform:scaleX(0.9084)">EN PRIMERA VISITA</div>
<div class="t" style="left:691.30px;top:544.85px;font-size:17.5px;font-family:'Liberation Serif', serif;font-weight:normal;color:#1d1d1b;transform:scaleX(1.0054)"><b style="-webkit-text-stroke:0.4px currentColor">35%</b> (85)</div>
<div class="t sw" style="left:691.80px;top:565.73px;font-size:12.6px;font-family:'Liberation Sans', sans-serif;font-weight:normal;color:#231f20;transform:scaleX(0.8792)">de municipalidades registraron</div>
<div class="t sw" style="left:691.80px;top:582.33px;font-size:12.6px;font-family:'Liberation Sans', sans-serif;font-weight:normal;color:#231f20;transform:scaleX(0.8792)">demora en la compra de víveres:</div>
<div class="t sw" style="left:691.80px;top:599.93px;font-size:12.6px;font-family:'Liberation Sans', sans-serif;font-weight:normal;color:#231f20;transform:scaleX(0.8792)">Demora en convocatoria</div>
<div class="t sw" style="left:691.80px;top:616.83px;font-size:12.6px;font-family:'Liberation Sans', sans-serif;font-weight:normal;color:#231f20;transform:scaleX(0.8792)">de procesos</div>
<div class="t sw" style="left:691.80px;top:634.73px;font-size:12.6px;font-family:'Liberation Sans', sans-serif;font-weight:normal;color:#231f20;transform:scaleX(0.8792)">Demora en elección</div>
<div class="t sw" style="left:691.80px;top:651.33px;font-size:12.6px;font-family:'Liberation Sans', sans-serif;font-weight:normal;color:#231f20;transform:scaleX(0.8792)">de proveedores</div>
<div class="t sw" style="left:691.80px;top:670.73px;font-size:12.6px;font-family:'Liberation Sans', sans-serif;font-weight:normal;color:#231f20;transform:scaleX(0.8792)">Incumplimientos de proveedores</div>
<div class="t sw" style="left:691.80px;top:687.93px;font-size:12.6px;font-family:'Liberation Sans', sans-serif;font-weight:normal;color:#231f20;transform:scaleX(0.8792)">en la entrega de productos</div>
<div class="t" style="left:691.30px;top:711.35px;font-size:17.5px;font-family:'Liberation Serif', serif;font-weight:normal;color:#1d1d1b;transform:scaleX(1.0070)"><b style="-webkit-text-stroke:0.4px currentColor">9%</b> (22)</div>
<div class="t sw" style="left:691.80px;top:733.13px;font-size:12.6px;font-family:'Liberation Sans', sans-serif;font-weight:normal;color:#231f20;transform:scaleX(0.8792)">de municipalidades tuvieron</div>
<div class="t sw" style="left:691.80px;top:750.33px;font-size:12.6px;font-family:'Liberation Sans', sans-serif;font-weight:normal;color:#231f20;transform:scaleX(0.8792)">deficiencias en distribución</div>
<div class="t sw" style="left:691.80px;top:766.93px;font-size:12.6px;font-family:'Liberation Sans', sans-serif;font-weight:normal;color:#231f20;transform:scaleX(0.8792)">de canastas:</div>
<div class="t sw" style="left:691.80px;top:788.13px;font-size:12.6px;font-family:'Liberation Sans', sans-serif;font-weight:normal;color:#231f20;transform:scaleX(0.8792)">Falta de padrones</div>
<div class="t sw" style="left:691.80px;top:804.73px;font-size:12.6px;font-family:'Liberation Sans', sans-serif;font-weight:normal;color:#231f20;transform:scaleX(0.8792)">de beneficiarios</div>
<div class="t sw" style="left:691.80px;top:823.33px;font-size:12.6px;font-family:'Liberation Sans', sans-serif;font-weight:normal;color:#231f20;transform:scaleX(0.8792)">Padrones desactualizados</div>
<div class="t sw" style="left:691.80px;top:841.93px;font-size:12.6px;font-family:'Liberation Sans', sans-serif;font-weight:normal;color:#231f20;transform:scaleX(0.8792)">Ausencia de actas de entrega</div>
<div class="t" style="left:691.30px;top:865.85px;font-size:17.5px;font-family:'Liberation Serif', serif;font-weight:normal;color:#1d1d1b;transform:scaleX(1.0070)"><b style="-webkit-text-stroke:0.4px currentColor">6%</b> (14)</div>
<div class="t sw" style="left:691.80px;top:887.93px;font-size:12.6px;font-family:'Liberation Sans', sans-serif;font-weight:normal;color:#231f20;transform:scaleX(0.8792)">de municipalidades tuvieron</div>
<div class="t sw" style="left:691.80px;top:904.33px;font-size:12.6px;font-family:'Liberation Sans', sans-serif;font-weight:normal;color:#231f20;transform:scaleX(0.8792)">deficiencias en la fase de</div>
<div class="t sw" style="left:691.80px;top:920.73px;font-size:12.6px;font-family:'Liberation Sans', sans-serif;font-weight:normal;color:#231f20;transform:scaleX(0.8792)">almacenamiento:</div>
<div class="t sw" style="left:691.80px;top:937.93px;font-size:12.6px;font-family:'Liberation Sans', sans-serif;font-weight:normal;color:#231f20;transform:scaleX(0.8792)">Uso de locales inadecuados</div>
<div class="t sw" style="left:691.80px;top:954.33px;font-size:12.6px;font-family:'Liberation Sans', sans-serif;font-weight:normal;color:#231f20;transform:scaleX(0.8792)">para almacenar los víveres</div>
<div class="t" style="left:691.30px;top:982.35px;font-size:17.5px;font-family:'Liberation Serif', serif;font-weight:normal;color:#1d1d1b;transform:scaleX(1.0041)"><b style="-webkit-text-stroke:0.4px currentColor">50%</b> (125)</div>
<div class="t sw" style="left:691.80px;top:1003.58px;font-size:12.6px;font-family:'Liberation Sans', sans-serif;font-weight:normal;color:#231f20;transform:scaleX(0.8792)">de municipios estaban en fase de</div>
<div class="t sw" style="left:691.80px;top:1020.03px;font-size:12.6px;font-family:'Liberation Sans', sans-serif;font-weight:normal;color:#231f20;transform:scaleX(0.8792)">implementación de procesos de</div>
<div class="t sw" style="left:691.80px;top:1037.13px;font-size:12.6px;font-family:'Liberation Sans', sans-serif;font-weight:normal;color:#231f20;transform:scaleX(0.8792)">adquisición de víveres y la</div>
<div class="t sw" style="left:691.80px;top:1053.58px;font-size:12.6px;font-family:'Liberation Sans', sans-serif;font-weight:normal;color:#231f20;transform:scaleX(0.8792)">distribución de canastas.</div>
<div class="t" style="left:630.30px;top:1090.13px;font-size:12.6px;font-family:'Liberation Sans', sans-serif;font-weight:bold;color:#1d1d1b;-webkit-text-stroke:0.2px currentColor;transform:scaleX(0.9204)">Tambien se detectaron casos de:</div>
<div class="t sw" style="left:691.80px;top:1114.93px;font-size:12.6px;font-family:'Liberation Sans', sans-serif;font-weight:normal;color:#231f20;transform:scaleX(0.8792)">Presunta sobrevaloración de</div>
<div class="t sw" style="left:691.80px;top:1131.53px;font-size:12.6px;font-family:'Liberation Sans', sans-serif;font-weight:normal;color:#231f20;transform:scaleX(0.8792)">precios de víveres adquiridos</div>
<div class="t sw" style="left:691.80px;top:1154.33px;font-size:12.6px;font-family:'Liberation Sans', sans-serif;font-weight:normal;color:#231f20;transform:scaleX(0.8792)">Presuntos productos adquiridos</div>
<div class="t sw" style="left:691.80px;top:1171.03px;font-size:12.6px;font-family:'Liberation Sans', sans-serif;font-weight:normal;color:#231f20;transform:scaleX(0.8792)">que no garantizar inocuidad</div>
<div class="t sw" style="left:691.80px;top:1195.93px;font-size:12.6px;font-family:'Liberation Sans', sans-serif;font-weight:normal;color:#231f20;transform:scaleX(0.8792)">Ausencia de funcionarios</div>
<div class="t sw" style="left:691.80px;top:1211.83px;font-size:12.6px;font-family:'Liberation Sans', sans-serif;font-weight:normal;color:#231f20;transform:scaleX(0.8792)">responsables</div>
<div class="t" style="left:42.90px;top:1116.39px;font-size:13px;font-family:'Liberation Sans', sans-serif;font-weight:bold;color:#1d1d1b;-webkit-text-stroke:0.2px currentColor;transform:scaleX(0.8803)">INTERVENCIÓN POR TIPO DE MUNICIPALIDAD</div>
<div class="t" style="left:106.30px;top:1150.09px;font-size:27px;font-family:'Liberation Serif', serif;font-weight:bold;color:#fff;-webkit-text-stroke:0.45px currentColor;transform:scaleX(0.9389)">20%</div>
<div class="t" style="left:531.50px;top:1150.09px;font-size:27px;font-family:'Liberation Serif', serif;font-weight:bold;color:#fff;-webkit-text-stroke:0.45px currentColor;transform:scaleX(0.9278)">80%</div>
<div class="t" style="left:96.60px;top:1212.66px;font-size:14.5px;font-family:'Liberation Serif', serif;font-weight:bold;color:#1d1d1b;-webkit-text-stroke:0.45px currentColor;transform:scaleX(1.1034)">48</div>
<div class="t sw" style="left:116.50px;top:1213.99px;font-size:13px;font-family:'Liberation Sans', sans-serif;font-weight:normal;color:#231f20;transform:scaleX(0.8502)">municipalidades provinciales</div>
<div class="t" style="left:432.90px;top:1212.46px;font-size:14.5px;font-family:'Liberation Serif', serif;font-weight:bold;color:#1d1d1b;-webkit-text-stroke:0.45px currentColor;transform:scaleX(1.1448)">206</div>
<div class="t sw" style="left:461.80px;top:1213.99px;font-size:13px;font-family:'Liberation Sans', sans-serif;font-weight:normal;color:#231f20;transform:scaleX(0.8554)">municipalidades distritales</div>
<div class="t" style="left:30.10px;top:1251.76px;font-size:8.2px;font-family:'Liberation Sans', sans-serif;font-weight:bold;color:#1d1d1b;-webkit-text-stroke:0.2px currentColor;transform:scaleX(0.8173)">FUENTE:</div>
<div class="t" style="left:62.20px;top:1251.76px;font-size:8.2px;font-family:'Liberation Sans', sans-serif;font-weight:normal;color:#1d1d1b;transform:scaleX(0.9509)">Gerencias Regionales de Control de la Contraloría General de la República</div>
<div class="t sv" style="left:246.45px;top:568.31px;font-size:14.2px;font-family:'Liberation Serif', serif;font-weight:bold;color:#fff;transform:scaleX(1.0000)">4</div>
<div class="t sw" style="left:231.00px;top:593.60px;font-size:12.4px;font-family:'Liberation Sans', sans-serif;font-weight:normal;color:#2b2b2b;transform:scaleX(0.8575)">Tumbes</div>
<div class="t sv" style="left:315.91px;top:580.01px;font-size:14.2px;font-family:'Liberation Serif', serif;font-weight:bold;color:#fff;transform:scaleX(1.0000)">10</div>
<div class="t sw" style="left:298.85px;top:605.20px;font-size:12.4px;font-family:'Liberation Sans', sans-serif;font-weight:normal;color:#2b2b2b;transform:scaleX(0.8250)">Amazonas</div>
<div class="t sv" style="left:230.75px;top:624.61px;font-size:14.2px;font-family:'Liberation Serif', serif;font-weight:bold;color:#fff;transform:scaleX(1.0000)">4</div>
<div class="t sw" style="left:221.30px;top:649.50px;font-size:12.4px;font-family:'Liberation Sans', sans-serif;font-weight:normal;color:#2b2b2b;transform:scaleX(0.8985)">Piura</div>
<div class="t sv" style="left:296.45px;top:631.11px;font-size:14.2px;font-family:'Liberation Serif', serif;font-weight:bold;color:#fff;transform:scaleX(1.0000)">2</div>
<div class="t sw" style="left:273.00px;top:656.40px;font-size:12.4px;font-family:'Liberation Sans', sans-serif;font-weight:normal;color:#2b2b2b;transform:scaleX(0.9012)">Cajamarca</div>
<div class="t sv" style="left:250.91px;top:676.01px;font-size:14.2px;font-family:'Liberation Serif', serif;font-weight:bold;color:#fff;transform:scaleX(1.0000)">15</div>
<div class="t sw" style="left:225.00px;top:700.90px;font-size:12.4px;font-family:'Liberation Sans', sans-serif;font-weight:normal;color:#2b2b2b;transform:scaleX(0.9211)">Lambayeque</div>
<div class="t sv" style="left:296.45px;top:721.11px;font-size:14.2px;font-family:'Liberation Serif', serif;font-weight:bold;color:#fff;transform:scaleX(1.0000)">4</div>
<div class="t sw" style="left:271.30px;top:746.70px;font-size:12.4px;font-family:'Liberation Sans', sans-serif;font-weight:normal;color:#2b2b2b;transform:scaleX(0.9256)">La Libertad</div>
<div class="t sv" style="left:320.91px;top:771.31px;font-size:14.2px;font-family:'Liberation Serif', serif;font-weight:bold;color:#fff;transform:scaleX(1.0000)">10</div>
<div class="t sw" style="left:311.50px;top:797.00px;font-size:12.4px;font-family:'Liberation Sans', sans-serif;font-weight:normal;color:#2b2b2b;transform:scaleX(0.7982)">Áncash</div>
<div class="t sv" style="left:355.91px;top:682.31px;font-size:14.2px;font-family:'Liberation Serif', serif;font-weight:bold;color:#fff;transform:scaleX(1.0000)">36</div>
<div class="t sw" style="left:334.20px;top:706.90px;font-size:12.4px;font-family:'Liberation Sans', sans-serif;font-weight:normal;color:#2b2b2b;transform:scaleX(0.9503)">San Martín</div>
<div class="t sv" style="left:433.45px;top:590.71px;font-size:14.2px;font-family:'Liberation Serif', serif;font-weight:bold;color:#fff;transform:scaleX(1.0000)">4</div>
<div class="t sw" style="left:420.30px;top:615.70px;font-size:12.4px;font-family:'Liberation Sans', sans-serif;font-weight:normal;color:#2b2b2b;transform:scaleX(0.9505)">Loreto</div>
<div class="t sv" style="left:376.95px;top:743.91px;font-size:14.2px;font-family:'Liberation Serif', serif;font-weight:bold;color:#fff;transform:scaleX(1.0000)">5</div>
<div class="t sw" style="left:357.25px;top:769.30px;font-size:12.4px;font-family:'Liberation Sans', sans-serif;font-weight:normal;color:#2b2b2b;transform:scaleX(0.9373)">Huánuco</div>
<div class="t sv" style="left:419.45px;top:776.31px;font-size:14.2px;font-family:'Liberation Serif', serif;font-weight:bold;color:#fff;transform:scaleX(1.0000)">4</div>
<div class="t sw" style="left:408.35px;top:801.40px;font-size:12.4px;font-family:'Liberation Sans', sans-serif;font-weight:normal;color:#2b2b2b;transform:scaleX(0.8508)">Pasco</div>
<div class="t sv" style="left:371.15px;top:814.51px;font-size:14.2px;font-family:'Liberation Serif', serif;font-weight:bold;color:#fff;transform:scaleX(1.0000)">7</div>
<div class="t sw" style="left:347.90px;top:840.10px;font-size:12.4px;font-family:'Liberation Sans', sans-serif;font-weight:normal;color:#2b2b2b;transform:scaleX(0.9192)">Lima Prov.</div>
<div class="t sv" style="left:354.41px;top:864.91px;font-size:14.2px;font-family:'Liberation Serif', serif;font-weight:bold;color:#fff;transform:scaleX(1.0000)">50</div>
<div class="t sw" style="left:349.13px;top:890.50px;font-size:12.4px;font-family:'Liberation Sans', sans-serif;font-weight:normal;color:#2b2b2b;transform:scaleX(0.9211)">Lima</div>
<div class="t sv" style="left:421.85px;top:866.41px;font-size:14.2px;font-family:'Liberation Serif', serif;font-weight:bold;color:#fff;transform:scaleX(1.0000)">5</div>
<div class="t sw" style="left:391.20px;top:892.10px;font-size:12.4px;font-family:'Liberation Sans', sans-serif;font-weight:normal;color:#2b2b2b;transform:scaleX(0.9195)">Huancavelica</div>
<div class="t sv" style="left:396.71px;top:927.31px;font-size:14.2px;font-family:'Liberation Serif', serif;font-weight:bold;color:#fff;transform:scaleX(1.0000)">13</div>
<div class="t sw" style="left:396.19px;top:953.00px;font-size:12.4px;font-family:'Liberation Sans', sans-serif;font-weight:normal;color:#2b2b2b;transform:scaleX(0.9211)">Ica</div>
<div class="t sv" style="left:446.15px;top:820.51px;font-size:14.2px;font-family:'Liberation Serif', serif;font-weight:bold;color:#fff;transform:scaleX(1.0000)">6</div>
<div class="t sw" style="left:436.40px;top:847.50px;font-size:12.4px;font-family:'Liberation Sans', sans-serif;font-weight:normal;color:#2b2b2b;transform:scaleX(0.8775)">Junín</div>
<div class="t sv" style="left:475.75px;top:766.61px;font-size:14.2px;font-family:'Liberation Serif', serif;font-weight:bold;color:#fff;transform:scaleX(1.0000)">5</div>
<div class="t sw" style="left:460.95px;top:792.50px;font-size:12.4px;font-family:'Liberation Sans', sans-serif;font-weight:normal;color:#2b2b2b;transform:scaleX(0.9030)">Ucayali</div>
<div class="t sv" style="left:488.21px;top:849.71px;font-size:14.2px;font-family:'Liberation Serif', serif;font-weight:bold;color:#fff;transform:scaleX(1.0000)">10</div>
<div class="t sw" style="left:479.60px;top:875.30px;font-size:12.4px;font-family:'Liberation Sans', sans-serif;font-weight:normal;color:#2b2b2b;transform:scaleX(0.8940)">Cusco</div>
<div class="t sv" style="left:569.65px;top:839.91px;font-size:14.2px;font-family:'Liberation Serif', serif;font-weight:bold;color:#fff;transform:scaleX(1.0000)">2</div>
<div class="t sw" style="left:535.10px;top:866.00px;font-size:12.4px;font-family:'Liberation Sans', sans-serif;font-weight:normal;color:#2b2b2b;transform:scaleX(0.9457)">Madre de Dios</div>
<div class="t sv" style="left:491.75px;top:904.71px;font-size:14.2px;font-family:'Liberation Serif', serif;font-weight:bold;color:#fff;transform:scaleX(1.0000)">7</div>
<div class="t sw" style="left:472.75px;top:930.00px;font-size:12.4px;font-family:'Liberation Sans', sans-serif;font-weight:normal;color:#2b2b2b;transform:scaleX(0.8504)">Apurímac</div>
<div class="t sv" style="left:445.85px;top:936.31px;font-size:14.2px;font-family:'Liberation Serif', serif;font-weight:bold;color:#fff;transform:scaleX(1.0000)">5</div>
<div class="t sw" style="left:427.10px;top:962.40px;font-size:12.4px;font-family:'Liberation Sans', sans-serif;font-weight:normal;color:#2b2b2b;transform:scaleX(0.8228)">Ayacucho</div>
<div class="t sv" style="left:498.11px;top:962.01px;font-size:14.2px;font-family:'Liberation Serif', serif;font-weight:bold;color:#fff;transform:scaleX(1.0000)">16</div>
<div class="t sw" style="left:484.10px;top:987.60px;font-size:12.4px;font-family:'Liberation Sans', sans-serif;font-weight:normal;color:#2b2b2b;transform:scaleX(0.8506)">Arequipa</div>
<div class="t sv" style="left:578.91px;top:939.41px;font-size:14.2px;font-family:'Liberation Serif', serif;font-weight:bold;color:#fff;transform:scaleX(1.0000)">19</div>
<div class="t sw" style="left:572.50px;top:965.10px;font-size:12.4px;font-family:'Liberation Sans', sans-serif;font-weight:normal;color:#2b2b2b;transform:scaleX(0.9325)">Puno</div>
<div class="t sv" style="left:546.45px;top:1000.01px;font-size:14.2px;font-family:'Liberation Serif', serif;font-weight:bold;color:#fff;transform:scaleX(1.0000)">6</div>
<div class="t sw" style="left:521.45px;top:1024.80px;font-size:12.4px;font-family:'Liberation Sans', sans-serif;font-weight:normal;color:#2b2b2b;transform:scaleX(0.9750)">Moquegua</div>
<div class="t sv" style="left:578.35px;top:1053.61px;font-size:14.2px;font-family:'Liberation Serif', serif;font-weight:bold;color:#fff;transform:scaleX(1.0000)">5</div>
<div class="t sw" style="left:567.30px;top:1077.90px;font-size:12.4px;font-family:'Liberation Sans', sans-serif;font-weight:normal;color:#2b2b2b;transform:scaleX(0.8828)">Tacna</div>
<div class="t sw" style="left:340.00px;top:906.50px;font-size:12.4px;font-family:'Liberation Sans', sans-serif;font-weight:normal;color:#2b2b2b;transform:scaleX(0.9382)">y Callao</div>
</body></html>
